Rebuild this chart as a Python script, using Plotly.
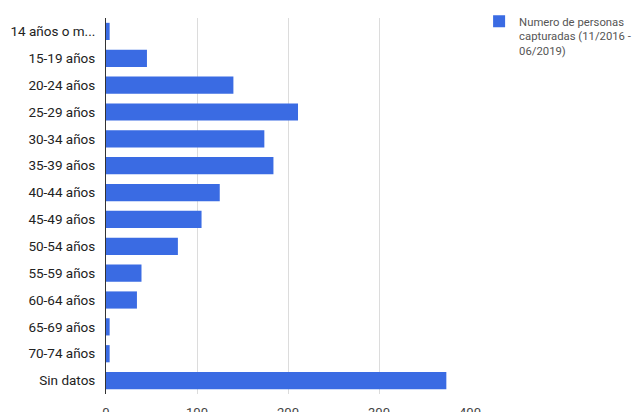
import plotly.graph_objects as go

categories = ["14 años o m...", "15-19 años", "20-24 años", "25-29 años", "30-34 años",
              "35-39 años", "40-44 años", "45-49 años", "50-54 años", "55-59 años",
              "60-64 años", "65-69 años", "70-74 años", "Sin datos"]
values = [4, 45, 140, 211, 174, 184, 125, 105, 79, 39, 34, 4, 4, 374]
series_name = "Numero de personas<br>capturadas (11/2016 -<br>06/2019)"
x_ticks = [0, 100, 200, 300, 400]

fig = go.Figure()
fig.add_trace(go.Bar(
    y=categories, x=values, orientation="h", name=series_name,
    marker=dict(color="#3a6be3", line=dict(width=0)),
    showlegend=True,
))

fig.update_layout(
    width=644, height=412,
    margin=dict(l=106, r=174, t=18, b=18, autoexpand=False),
    paper_bgcolor="white", plot_bgcolor="white",
    bargap=0.36,
    font=dict(family="Roboto, Arial, sans-serif", size=12, color="#222"),
    xaxis=dict(range=[0, 400], tickvals=x_ticks, showgrid=True, gridcolor="#dcdcdc",
               zeroline=False, showline=False, ticks="", automargin=False,
               ticklabelstandoff=9, tickfont=dict(color="#444", size=13)),
    yaxis=dict(autorange="reversed", showline=True, linecolor="#333", linewidth=1,
               ticks="", automargin=False, ticklabelstandoff=7,
               tickfont=dict(color="#222", size=13.5)),
    legend=dict(x=1.025, y=1.028, xanchor="left", yanchor="top", valign="top",
                font=dict(size=11.3, color="#555"), itemwidth=30,
                bgcolor="rgba(0,0,0,0)"),
)

fig.write_html("out.html")
